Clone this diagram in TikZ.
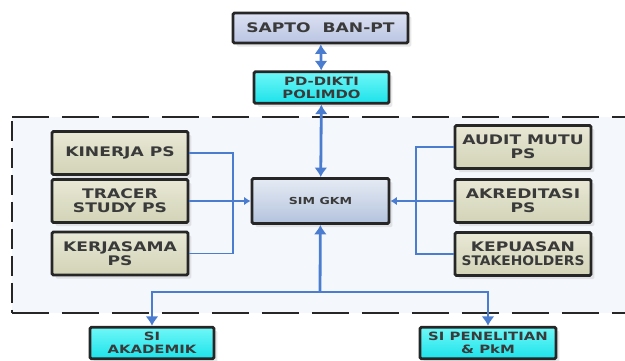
\documentclass[tikz,border=0pt]{standalone}
\usepackage{fontspec}
\setmainfont{DejaVu Sans}[FakeStretch=1.3]
\newfontfamily\narrowfont{DejaVu Sans}[FakeStretch=1.05]
\usetikzlibrary{arrows.meta,shadows}
\definecolor{linkblue}{HTML}{4A7CCF}
\definecolor{textgray}{HTML}{3A3A3A}
\definecolor{framefill}{HTML}{F4F7FB}
\definecolor{beigetop}{HTML}{E8E8D6}
\definecolor{beigebot}{HTML}{D2D3B6}
\definecolor{lilactop}{HTML}{DCE1F2}
\definecolor{lilacbot}{HTML}{BAC4E2}
\definecolor{simtop}{HTML}{E6EBF4}
\definecolor{simbot}{HTML}{B3C3DD}
\definecolor{cyantop}{HTML}{6FF7F7}
\definecolor{cyanbot}{HTML}{1CE2EA}
\begin{document}
\begin{tikzpicture}[x=0.02cm,y=-0.02cm,
			boxbase/.style={rectangle, draw=black!85, line width=1.6pt, rounded corners=0.8pt, align=center, inner sep=0pt, text=textgray, font=\bfseries\fontsize{7.5}{8}\selectfont, drop shadow={opacity=0.18, shadow xshift=0.7mm, shadow yshift=-0.7mm}},
			boxbeige/.style={boxbase, top color=beigetop, bottom color=beigebot, minimum width=2.72cm, minimum height=0.86cm},
			boxlilac/.style={boxbase, top color=lilactop, bottom color=lilacbot, minimum width=3.5cm, minimum height=0.6cm},
			boxsim/.style={boxbase, top color=simtop, bottom color=simbot, minimum width=2.74cm, minimum height=0.9cm, font=\bfseries\fontsize{5.5}{6}\selectfont},
			boxcyan/.style={boxbase, top color=cyantop, bottom color=cyanbot, minimum height=0.63cm, font=\bfseries\fontsize{6.5}{7.5}\selectfont},
			linkthick/.style={linkblue, line width=1.6pt, >={Latex[length=1.9mm,width=2.6mm]}},
			linkthin/.style={linkblue, line width=0.85pt, >={Latex[length=1.3mm,width=1.7mm]}},
			]
\useasboundingbox (0,0) rectangle (625,360);

\fill[framefill] (12,117) rectangle (640,313);
\draw[black!85, line width=1.6pt, dash pattern=on 0.74cm off 0.26cm] (12,117) -- (640,117);
\draw[black!85, line width=1.6pt, dash pattern=on 0.74cm off 0.26cm] (12,313) -- (640,313);
\draw[black!85, line width=1.6pt, dash pattern=on 0.4cm off 0.14cm] (12,121) -- (12,313);

\node[boxlilac] (sapto) at (320.5,28) {SAPTO\ \ BAN-PT};
\node[boxcyan, minimum width=2.7cm] (pddikti) at (321.5,87.5) {PD-DIKTI\\POLIMDO};
\node[boxsim] (sim) at (320.5,201) {SIM GKM};

\node[boxbeige] (kinerja) at (120,153) {KINERJA PS};
\node[boxbeige] (tracer) at (120,201) {TRACER\\STUDY PS};
\node[boxbeige] (kerjasama) at (120,253.5) {KERJASAMA\\PS};

\node[boxbeige] (audit) at (523,147) {AUDIT MUTU\\PS};
\node[boxbeige] (akreditasi) at (523,201) {AKREDITASI\\PS};
\node[boxbeige] (kepuasan) at (523,254) {KEPUASAN\\{\narrowfont STAKEHOLDERS}};

\node[boxcyan, minimum width=2.48cm] (siak) at (152,343) {SI\\AKADEMIK};
\node[boxcyan, minimum width=2.72cm] (sipen) at (488,343) {SI PENELITIAN\\\&~PkM};

\coordinate (lbus) at (233,201);
\coordinate (rbus) at (416,201);
\coordinate (split) at (320,292);

\draw[linkthick,<->] (sapto) -- (pddikti);
\draw[linkthick,<->] (pddikti) -- (sim);

\draw[linkthin] (kinerja.east) -| (lbus);
\draw[linkthin] (kerjasama.east) -| (lbus);
\draw[linkthin,->] (tracer) -- (sim);

\draw[linkthin] (audit.west) -| (rbus);
\draw[linkthin] (kepuasan.west) -| (rbus);
\draw[linkthin,->] (akreditasi) -- (sim);

\draw[linkthick,->] (split) -- (sim);
\draw[linkthick,->] (split) -| (siak);
\draw[linkthick,->] (split) -| (sipen);

\end{tikzpicture}
\end{document}
